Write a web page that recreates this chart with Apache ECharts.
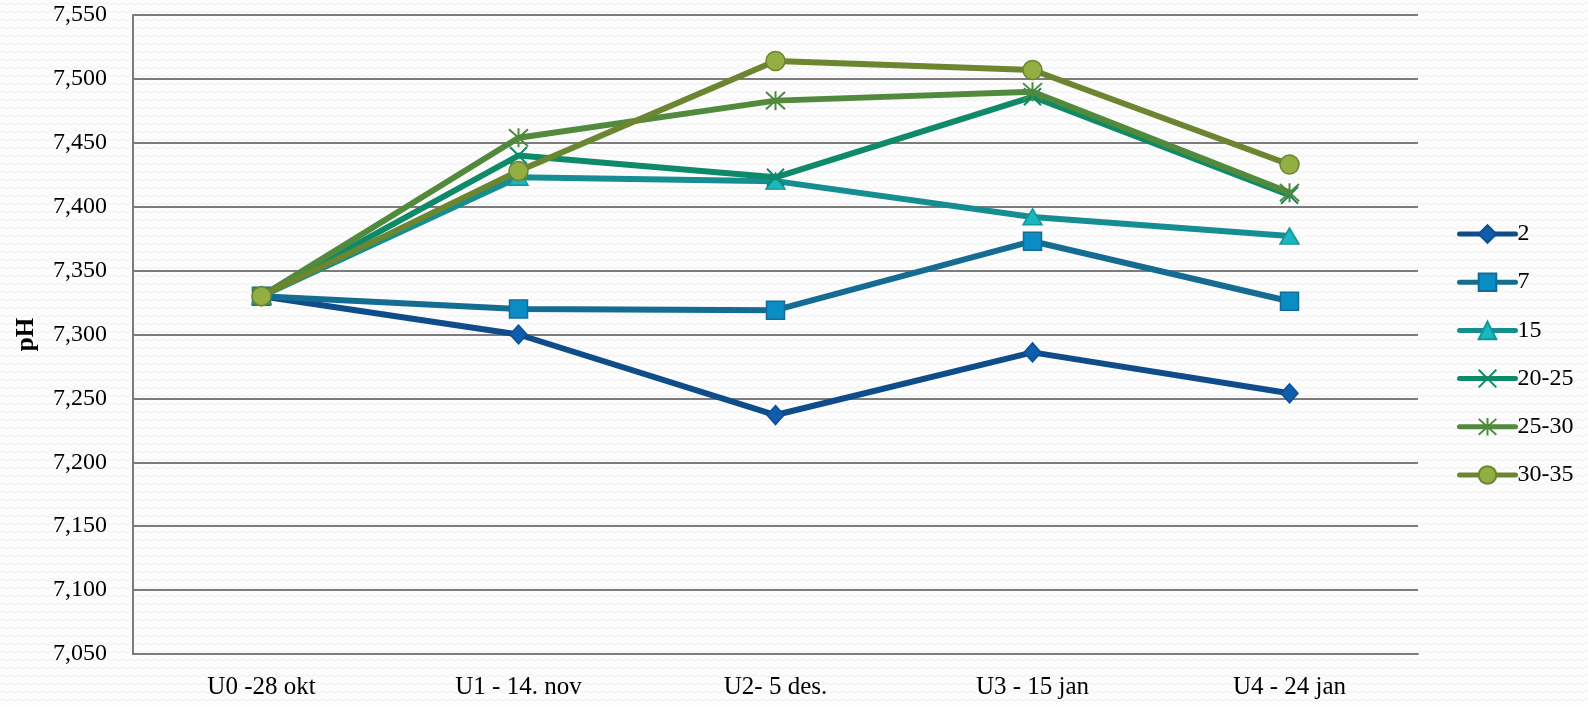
<!DOCTYPE html>
<html>
<head>
<meta charset="utf-8">
<title>pH</title>
<script src="https://cdn.jsdelivr.net/npm/echarts@6/dist/echarts.min.js"></script>
<style>
  html, body { margin: 0; padding: 0; background: #ffffff; }
  #chart { width: 1588px; height: 705px; }
</style>
</head>
<body>
<div id="chart"></div>
<script>
// Sampling rounds
const categories = ['U0 -28 okt', 'U1 - 14. nov', 'U2- 5 des.', 'U3 - 15 jan', 'U4 - 24 jan'];

// pH per depth group
const ph2    = [7.330, 7.300, 7.237, 7.286, 7.254];
const ph7    = [7.330, 7.320, 7.319, 7.373, 7.326];
const ph15   = [7.330, 7.423, 7.420, 7.392, 7.377];
const ph2025 = [7.330, 7.440, 7.423, 7.486, 7.409];
const ph2530 = [7.330, 7.454, 7.483, 7.490, 7.411];
const ph3035 = [7.330, 7.428, 7.514, 7.507, 7.433];

const seriesNames = ['2', '7', '15', '20-25', '25-30', '30-35'];
const seriesValues = [ph2, ph7, ph15, ph2025, ph2530, ph3035];

const yMin = 7.05, yMax = 7.55, yStep = 0.05;

const FONT = '"Liberation Serif", "DejaVu Serif", serif';

// Light zigzag texture for the background
function makeTexture() {
  const c = document.createElement('canvas');
  c.width = 8; c.height = 8;
  const g = c.getContext('2d');
  g.fillStyle = '#fdfdfd';
  g.fillRect(0, 0, 8, 8);
  g.strokeStyle = '#eeeeee';
  g.lineWidth = 1;
  g.beginPath();
  g.moveTo(0, 5);
  g.quadraticCurveTo(2, 1, 4, 3);
  g.quadraticCurveTo(6, 5, 8, 5);
  g.stroke();
  return c;
}

const styles = [
  { line: '#0f4c8a', fill: '#0f5eae', border: '#0d4f92', symbol: 'diamond', size: [17, 19] },
  { line: '#146c92', fill: '#0a8cc4', border: '#136c97', symbol: 'rect', size: 18 },
  { line: '#168d91', fill: '#1ab7bf', border: '#12969b', symbol: 'triangle', size: [19, 16] },
  { line: '#0e8a69', fill: 'rgba(0,0,0,0)', border: '#0e8a69', symbol: 'path://M0,0L10,10M10,0L0,10', size: 17, bw: 2 },
  { line: '#528a3d', fill: 'rgba(0,0,0,0)', border: '#4d8a3c', symbol: 'path://M5,0L5,10M0,0.5L10,9.5M10,0.5L0,9.5', size: 19, bw: 2 },
  { line: '#6b8530', fill: '#93ae43', border: '#6b8530', symbol: 'circle', size: 19 }
];

const LINE_W = 6;

const series = seriesNames.map((name, i) => {
  const s = styles[i];
  return {
    name: name,
    type: 'line',
    data: seriesValues[i],
    symbol: s.symbol,
    symbolSize: s.size,
    showAllSymbol: true,
    lineStyle: { color: s.line, width: LINE_W, cap: 'round', join: 'round' },
    itemStyle: { color: s.fill, borderColor: s.border, borderWidth: s.bw || 1.5 },
    emphasis: { disabled: true },
    z: 2 + i
  };
});

const chart = echarts.init(document.getElementById('chart'), null, { renderer: 'canvas' });
chart.setOption({
  animation: false,
  backgroundColor: { image: makeTexture(), repeat: 'repeat' },
  grid: { left: 133, top: 15, width: 1285, height: 639, containLabel: false },
  legend: {
    orient: 'vertical',
    left: 1452,
    top: 217,
    itemWidth: 56,
    itemHeight: 22,
    itemGap: 24.2,
    lineStyle: { width: 5 },
    textStyle: { fontFamily: FONT, fontSize: 24, lineHeight: 22, color: '#000', padding: [0, 0, 0, -3] },
    data: seriesNames
  },
  xAxis: {
    type: 'category',
    data: categories,
    boundaryGap: true,
    axisLine: { show: true, lineStyle: { color: '#7c7c7c', width: 2 } },
    axisTick: { show: false },
    axisLabel: { fontFamily: FONT, fontSize: 25, color: '#000', margin: 21 },
    splitLine: { show: false }
  },
  yAxis: {
    type: 'value',
    min: yMin,
    max: yMax,
    interval: yStep,
    name: 'pH',
    nameLocation: 'middle',
    nameGap: 94,
    nameRotate: 90,
    nameTextStyle: { fontFamily: FONT, fontSize: 25, fontWeight: 'bold', color: '#000' },
    axisLine: { show: true, lineStyle: { color: '#7c7c7c', width: 2 } },
    axisTick: { show: false },
    axisLabel: {
      fontFamily: FONT, fontSize: 24, color: '#000', margin: 26,
      formatter: v => v.toFixed(3).replace('.', ',')
    },
    splitLine: { show: true, lineStyle: { color: '#7c7c7c', width: 2 } }
  },
  series: series
});
</script>
</body>
</html>
